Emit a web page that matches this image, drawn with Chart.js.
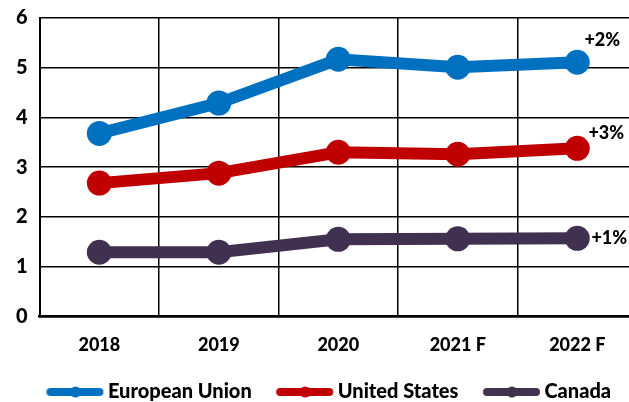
<!DOCTYPE html>
<html>
<head>
<meta charset="utf-8">
<script src="https://cdn.jsdelivr.net/npm/chart.js@4.4.1/dist/chart.umd.min.js"></script>
<style>
  html, body { margin: 0; padding: 0; background: #fff; overflow: hidden; }
  #wrap { width: 652px; height: 402px; }
</style>
</head>
<body>
<div id="wrap"><canvas id="chart"></canvas></div>
<script>
// ── Data ──────────────────────────────────────────────────────────────
const years = ['2018', '2019', '2020', '2021 F', '2022 F'];
const euValues = [3.68, 4.29, 5.17, 5.01, 5.11];
const usValues = [2.68, 2.88, 3.30, 3.26, 3.38];
const caValues = [1.29, 1.29, 1.55, 1.56, 1.57];
const seriesNames = ['European Union', 'United States', 'Canada'];
const growthLabels = ['+2%', '+3%', '+1%'];
const yTicks = [0, 1, 2, 3, 4, 5, 6];

// ── Styles ────────────────────────────────────────────────────────────
const COLORS = ['#0070C0', '#C00000', '#403151'];
const FONT = 'Lato, "Open Sans", sans-serif';
const LABEL_OFFSETS = [[25, -22], [29, -15], [32, 0]];

// legend swatch: transparent lead-in, then thick line with a dot in the middle
function swatch(color) {
  const c = document.createElement('canvas');
  c.width = 81; c.height = 16;
  const g = c.getContext('2d');
  g.strokeStyle = color;
  g.lineWidth = 8;
  g.lineCap = 'round';
  g.beginPath(); g.moveTo(27, 8); g.lineTo(76, 8); g.stroke();
  g.fillStyle = color;
  g.beginPath(); g.arc(52, 8, 5.5, 0, Math.PI * 2); g.fill();
  return c;
}

const endLabelPlugin = {
  id: 'endLabels',
  afterDatasetsDraw(chart) {
    const ctx = chart.ctx;
    ctx.save();
    ctx.font = '900 18px ' + FONT;
    ctx.fillStyle = '#000';
    ctx.textAlign = 'center';
    ctx.textBaseline = 'middle';
    chart.data.datasets.forEach((ds, i) => {
      const meta = chart.getDatasetMeta(i);
      const pt = meta.data[meta.data.length - 1];
      ctx.fillText(growthLabels[i], pt.x + LABEL_OFFSETS[i][0], pt.y + LABEL_OFFSETS[i][1]);
    });
    ctx.restore();
  }
};

const allValues = [euValues, usValues, caValues];

new Chart(document.getElementById('chart'), {
  type: 'line',
  data: {
    labels: years,
    datasets: allValues.map((vals, i) => ({
      label: seriesNames[i],
      data: vals,
      borderColor: COLORS[i],
      backgroundColor: COLORS[i],
      borderWidth: 12,
      pointRadius: 12.5,
      pointHoverRadius: 12.5,
      pointBorderWidth: 0,
      tension: 0,
      clip: false,
    })),
  },
  options: {
    responsive: true,
    maintainAspectRatio: false,
    animation: false,
    layout: { padding: { top: 18, left: 4, right: 15, bottom: -10 } },
    plugins: {
      tooltip: { enabled: false },
      legend: {
        position: 'bottom',
        labels: {
          usePointStyle: true,
          pointStyleWidth: 68,
          boxHeight: 16,
          padding: 8,
          color: '#000',
          font: { family: FONT, size: 20, weight: '900' },
          generateLabels(chart) {
            return chart.data.datasets.map((ds, i) => ({
              text: ds.label,
              pointStyle: swatch(COLORS[i]),
              fillStyle: COLORS[i],
              strokeStyle: COLORS[i],
              lineWidth: 0,
              fontColor: '#000',
              datasetIndex: i,
              hidden: false,
            }));
          },
        },
      },
    },
    scales: {
      x: {
        offset: true,
        grid: { offset: true, color: '#000', lineWidth: 1.5, drawTicks: false },
        border: { color: '#000', width: 2.5 },
        ticks: { color: '#000', padding: 18, font: { family: FONT, size: 18, weight: '900' } },
      },
      y: {
        min: 0,
        max: 6,
        afterBuildTicks(axis) { axis.ticks = yTicks.map(v => ({ value: v })); },
        afterFit(axis) { axis.paddingTop = 0; axis.paddingBottom = 0; },
        grid: { color: '#000', lineWidth: 1.5, drawTicks: false },
        border: { color: '#000', width: 2 },
        ticks: { color: '#000', padding: 12, font: { family: FONT, size: 20, weight: '900' } },
      },
    },
  },
  plugins: [endLabelPlugin],
});
</script>
</body>
</html>
